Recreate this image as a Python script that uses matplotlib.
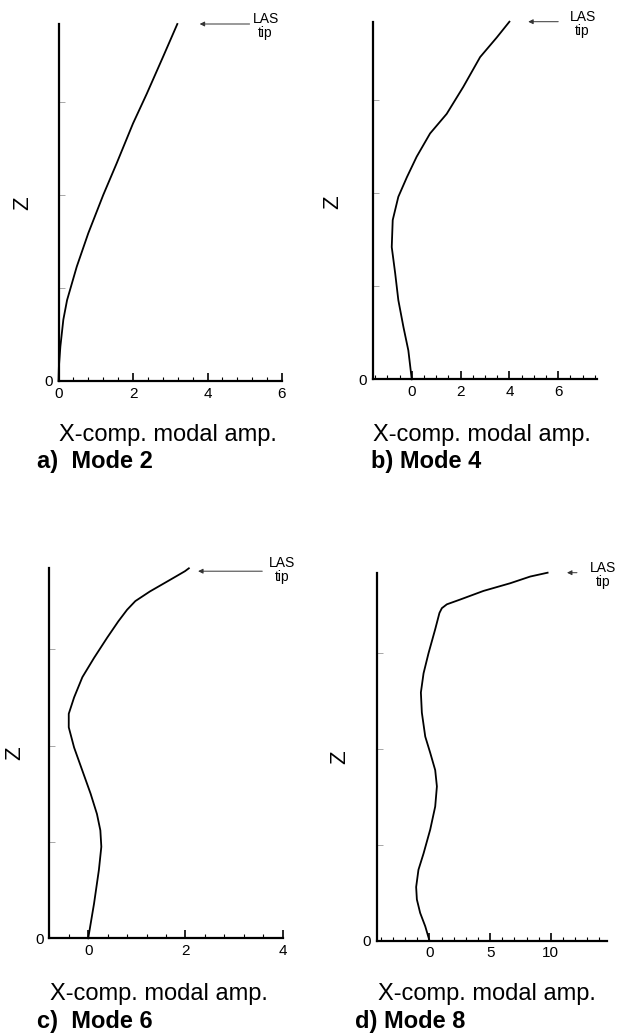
import matplotlib
matplotlib.use('Agg')
import matplotlib.pyplot as plt
from matplotlib.ticker import MultipleLocator

plt.rcParams['font.family'] = ['Liberation Sans', 'DejaVu Sans']

W, H = 619, 1036

# mode shapes (Z in tick units, X-comp. modal amplitude)
z_mode2 = [0, 0.15, 0.37, 0.66, 0.87, 1.23, 1.59, 2.00, 2.34, 2.77, 3.09, 3.49, 3.84]
x_mode2 = [0, 0.01, 0.05, 0.13, 0.23, 0.49, 0.80, 1.20, 1.56, 2.00, 2.37, 2.81, 3.19]

z_mode4 = [0, 0.31, 0.56, 0.85, 1.14, 1.42, 1.71, 1.96, 2.17, 2.39, 2.64, 2.85, 3.14, 3.46, 3.67, 3.84]
x_mode4 = [0, -0.14, -0.34, -0.55, -0.68, -0.82, -0.78, -0.55, -0.20, 0.20, 0.75, 1.43, 2.11, 2.80, 3.48, 4.0]

z_mode6 = [0, 0.36, 0.71, 0.95, 1.12, 1.29, 1.50, 1.74, 1.98, 2.19, 2.33, 2.50, 2.71, 2.91,
           3.12, 3.29, 3.41, 3.50, 3.60, 3.69, 3.76, 3.81, 3.84]
x_mode6 = [0, 0.12, 0.22, 0.27, 0.25, 0.18, 0.05, -0.12, -0.29, -0.40, -0.40, -0.29, -0.12, 0.12,
           0.39, 0.62, 0.80, 0.97, 1.27, 1.58, 1.82, 1.99, 2.07]

z_mode8 = [0, 0.15, 0.29, 0.43, 0.56, 0.74, 0.91, 1.16, 1.40, 1.61, 1.78, 1.96, 2.13, 2.38,
           2.59, 2.79, 3.00, 3.25, 3.42, 3.47, 3.51, 3.56, 3.65, 3.73, 3.80, 3.84]
x_mode8 = [0, -0.35, -0.77, -1.04, -1.10, -0.91, -0.49, 0.06, 0.47, 0.61, 0.47, 0.06, -0.35, -0.63,
           -0.71, -0.49, -0.08, 0.47, 0.82, 1.02, 1.43, 2.53, 4.45, 6.65, 8.30, 9.73]

xtick_vals = [[0, 2, 4, 6], [0, 2, 4, 6], [0, 2, 4], [0, 5, 10]]
titles = ['a)  Mode 2', 'b) Mode 4', 'c)  Mode 6', 'd) Mode 8']

fig = plt.figure(figsize=(W / 100, H / 100), dpi=100)

# left, top, right, bottom in pixels; xlim; minor step; arrow head/tail; LAS text x; Z label pos; xlabel/title pos
panels = [
    dict(box=(58.5, 24, 282, 381), xlim=(0, 6), minor=0.4, arrow=(3.79, 5.13, 3.84), las=5.56,
         zpos=(23, 203), xl=(59, 441), tl=(37, 468)),
    dict(box=(372.7, 21.7, 597.3, 379.3), xlim=(-1.6, 7.6), minor=0.5, arrow=(4.77, 6.0, 3.84), las=7.0,
         zpos=(333, 202), xl=(373, 441), tl=(371, 468)),
    dict(box=(49.3, 568.3, 282.7, 938.3), xlim=(-0.8, 4), minor=0.4, arrow=(2.26, 3.58, 3.81), las=3.98,
         zpos=(15, 753), xl=(50, 1000), tl=(37, 1028)),
    dict(box=(376.7, 572.7, 606.7, 940.7), xlim=(-4.35, 14.6), minor=1, arrow=(11.33, 12.15, 3.84), las=14.3,
         zpos=(340, 757), xl=(378, 1000), tl=(355, 1028)),
]
curves = [(x_mode2, z_mode2), (x_mode4, z_mode4), (x_mode6, z_mode6), (x_mode8, z_mode8)]

for p, (xs, zs), xt, title in zip(panels, curves, xtick_vals, titles):
    l, t, r, b = p['box']
    ax = fig.add_axes([l / W, 1 - b / H, (r - l) / W, (b - t) / H])
    ax.plot(xs, zs, color='black', lw=1.3, clip_on=False)
    ax.set_xlim(*p['xlim'])
    ax.set_ylim(0, 3.84)
    for s in ['top', 'right']:
        ax.spines[s].set_visible(False)
    for s in ['left', 'bottom']:
        ax.spines[s].set_linewidth(1.6)
    ax.set_xticks(xt)
    ax.set_xticklabels([str(v) for v in xt])
    ax.xaxis.set_minor_locator(MultipleLocator(p['minor']))
    ax.tick_params(axis='x', which='major', direction='in', length=6, width=1.2, labelsize=11, pad=4)
    ax.tick_params(axis='x', which='minor', direction='in', length=3, width=0.8)
    ax.set_yticks([0, 1, 2, 3])
    ax.set_yticklabels(['0', '', '', ''])
    ax.tick_params(axis='y', direction='in', length=4, width=0.6, color='#999999', labelsize=11, pad=4)

    hx, tx, za = p['arrow']
    ax.annotate('', xy=(hx, za), xytext=(tx, za),
                arrowprops=dict(arrowstyle='-|>', color='#333333', lw=0.7, mutation_scale=7,
                                shrinkA=0, shrinkB=0),
                annotation_clip=False)
    ax.text(p['las'], 3.82, 'LAS\ntip', fontsize=10, ha='center', va='center',
            linespacing=1.0, clip_on=False)

    fig.text(p['zpos'][0] / W, 1 - p['zpos'][1] / H, 'Z', rotation=90, fontsize=16,
             ha='center', va='center')
    fig.text(p['xl'][0] / W, 1 - p['xl'][1] / H, 'X-comp. modal amp.', fontsize=17,
             ha='left', va='baseline')
    fig.text(p['tl'][0] / W, 1 - p['tl'][1] / H, title, fontsize=17, fontweight='bold',
             ha='left', va='baseline')

fig.savefig('out.png', dpi=100)
